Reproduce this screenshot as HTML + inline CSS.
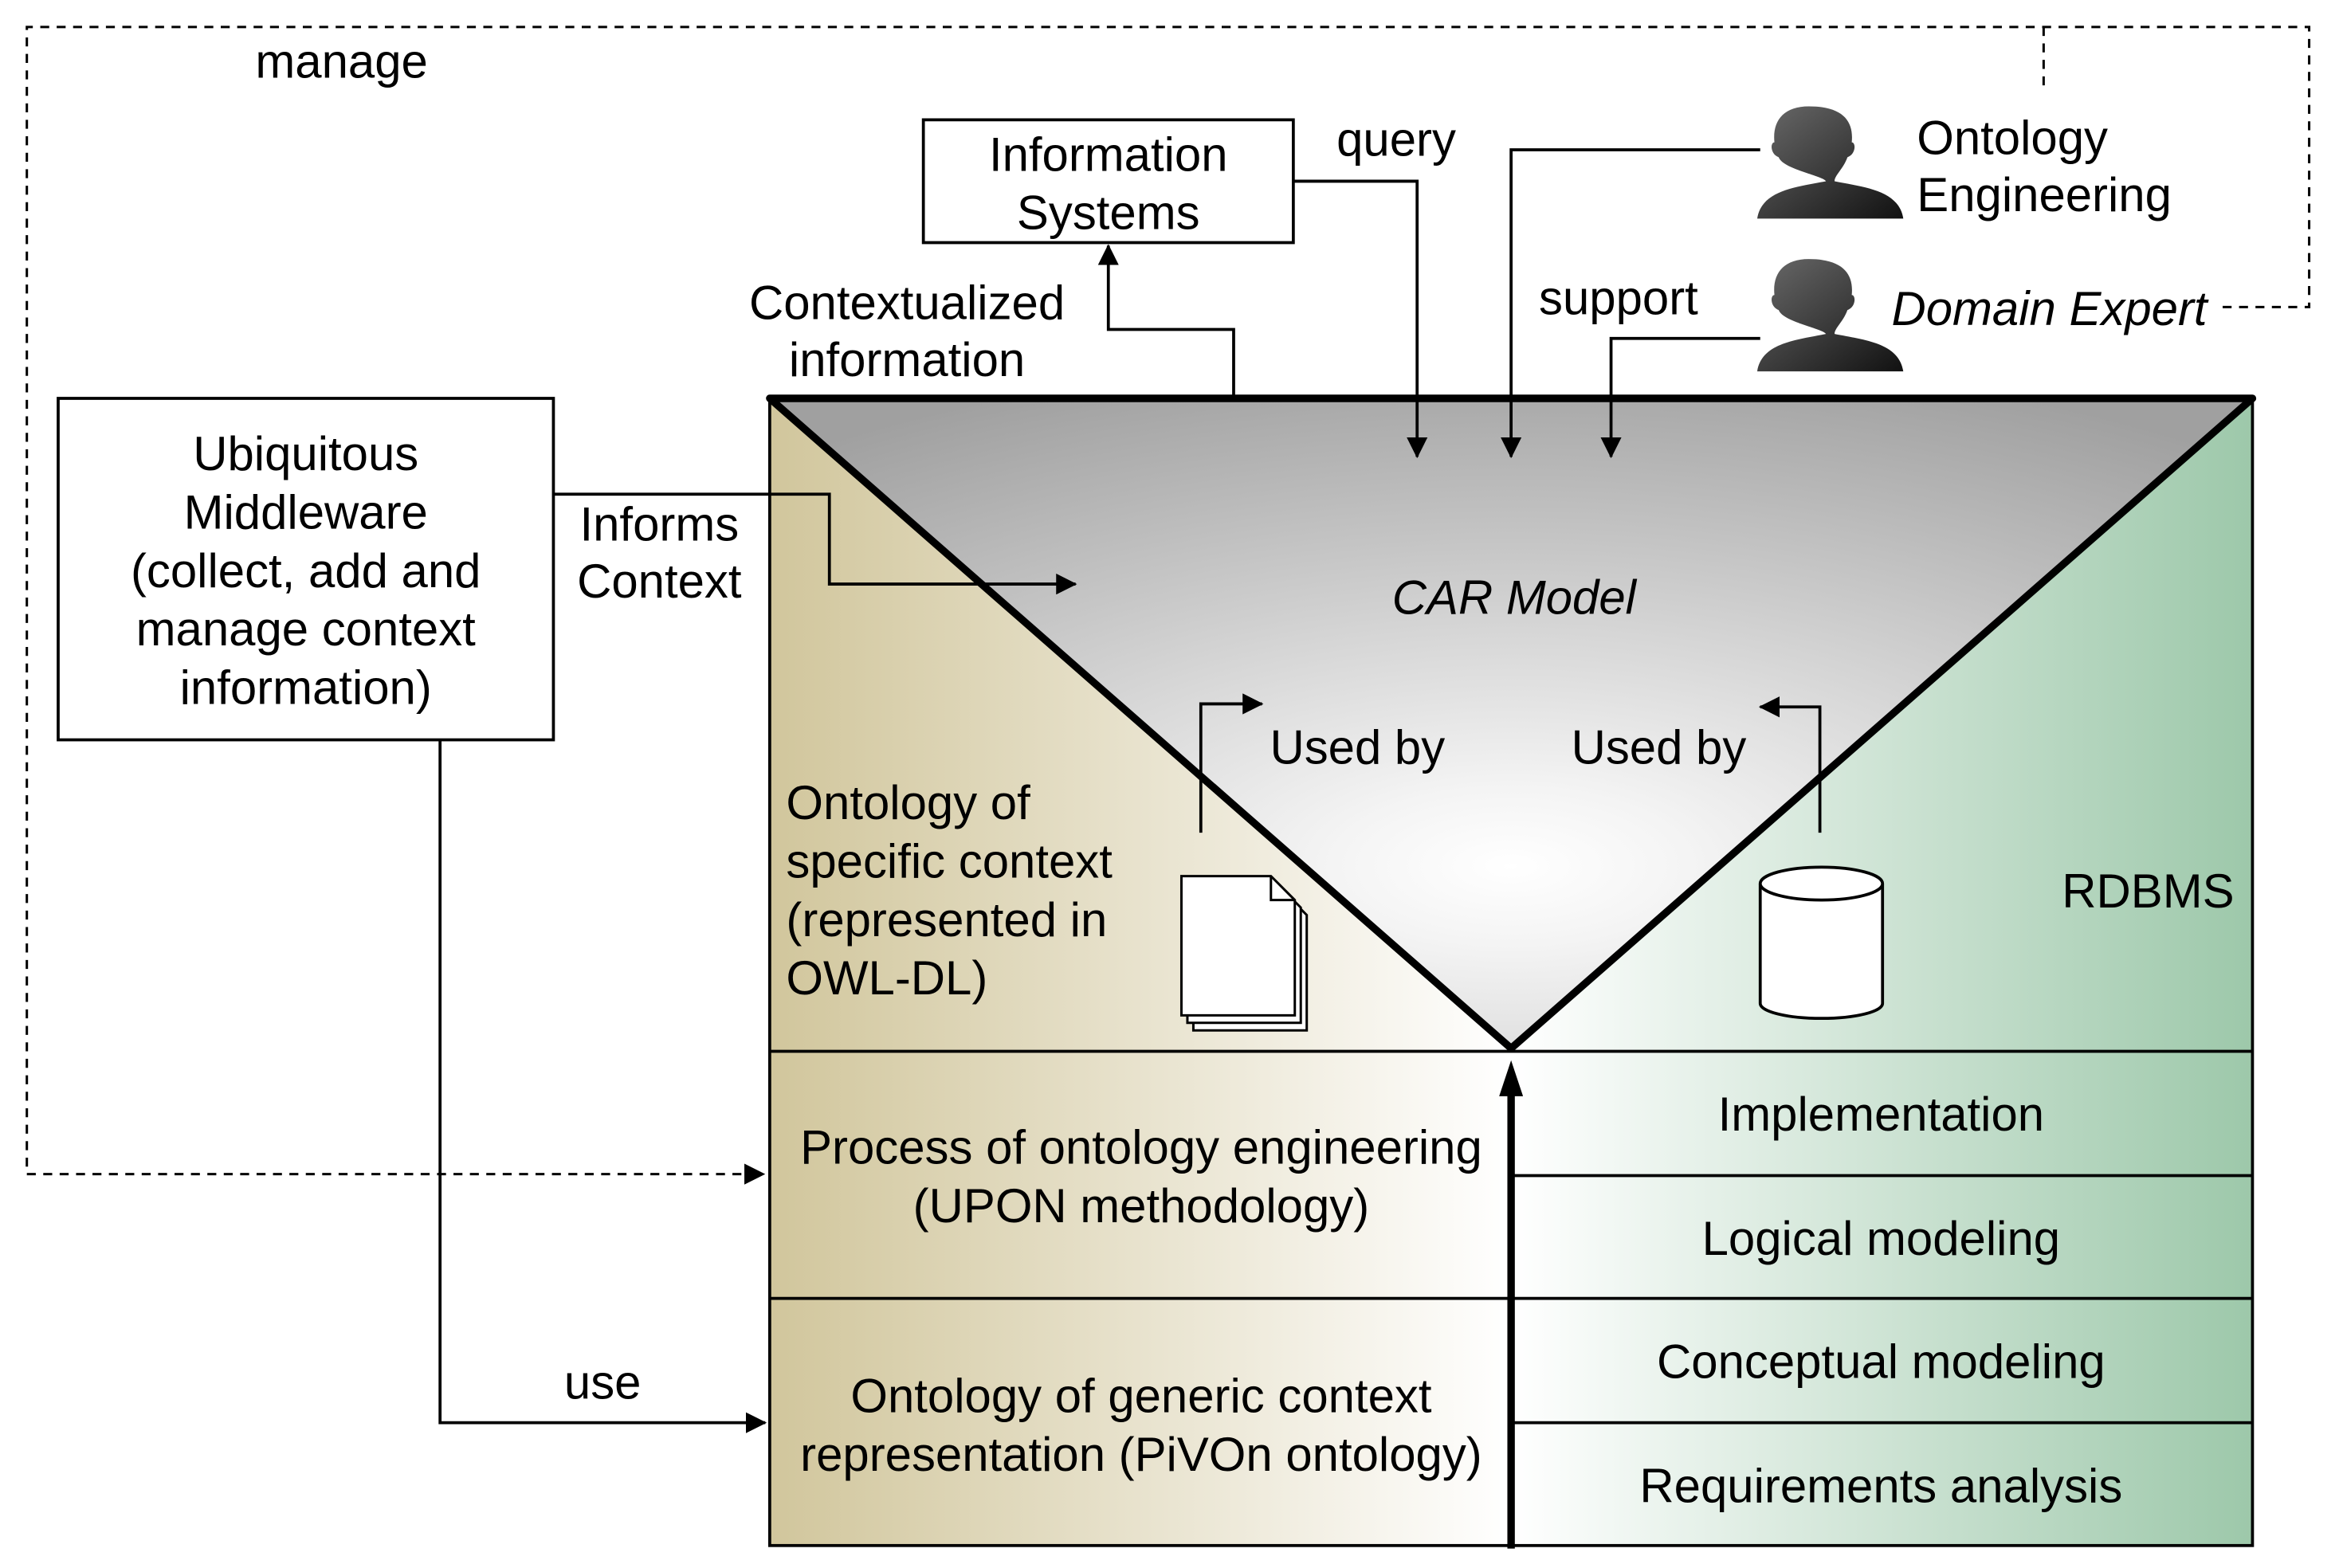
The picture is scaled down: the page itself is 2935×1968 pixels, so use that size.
<!DOCTYPE html>
<html><head><meta charset="utf-8"><style>
html,body{margin:0;padding:0;background:#fff;}
svg{display:block;}
text{font-family:"Liberation Sans",sans-serif;font-size:32px;fill:#000;}
</style></head><body>
<svg width="2935" height="1968" viewBox="0 0 1568 1047" preserveAspectRatio="none" xmlns="http://www.w3.org/2000/svg">
<defs>
<linearGradient id="tan" x1="0" x2="1" y1="0" y2="0"><stop offset="0" stop-color="#d1c69c"/><stop offset="1" stop-color="#ffffff"/></linearGradient>
<linearGradient id="grn" x1="0" x2="1" y1="0" y2="0"><stop offset="0" stop-color="#ffffff"/><stop offset="1" stop-color="#9dc8aa"/></linearGradient>
<radialGradient id="gry" cx="0.5" cy="0.72" r="0.8"><stop offset="0" stop-color="#ffffff"/><stop offset="0.15" stop-color="#f4f4f4"/><stop offset="1" stop-color="#a0a0a0"/></radialGradient>
<linearGradient id="pp" x1="0" x2="1" y1="0" y2="1"><stop offset="0" stop-color="#6a6a6a"/><stop offset="1" stop-color="#111"/></linearGradient>
<marker id="ah" markerWidth="14" markerHeight="14" refX="13" refY="7" orient="auto" markerUnits="userSpaceOnUse"><path d="M0,0 L14,7 L0,14 z" fill="#000"/></marker>
<marker id="ah2" markerWidth="24" markerHeight="16" refX="12" refY="8" orient="auto" markerUnits="userSpaceOnUse"><path d="M0,0 L24,8 L0,16 z" fill="#000"/></marker>
<g id="person"><path d="M24,0 C40,0 45,10 44,24 C46,24 46,32 42,34 C40,42 36,46 36,50 C50,54 66,56 68,75 L0,75 C2,56 18,54 32,50 L32,50 C30,46 12,42 10,34 C6,32 6,24 8,24 C7,10 12,0 24,0 Z" transform="scale(1.44,1)" fill="url(#pp)"/></g>
</defs>

<rect x="516" y="266" width="497" height="766" fill="url(#tan)"/>
<rect x="1013" y="266" width="497" height="766" fill="url(#grn)"/>
<rect x="516" y="266" width="994" height="766" fill="none" stroke="#000" stroke-width="2"/>
<line x1="516" y1="702" x2="1510" y2="702" stroke="#000" stroke-width="2"/>
<line x1="516" y1="867" x2="1510" y2="867" stroke="#000" stroke-width="2"/>
<line x1="1013" y1="785" x2="1510" y2="785" stroke="#000" stroke-width="2"/>
<line x1="1013" y1="950" x2="1510" y2="950" stroke="#000" stroke-width="2"/>
<polygon points="516,266 1510,266 1013,700" fill="url(#gry)" stroke="#000" stroke-width="5" stroke-linejoin="round"/>
<line x1="1013" y1="1034" x2="1013" y2="720" stroke="#000" stroke-width="5" marker-end="url(#ah2)"/>

<polyline points="1490,205 1548,205 1548,18 18,18 18,784 512,784" fill="none" stroke="#000" stroke-width="1.6" stroke-dasharray="6,5" marker-end="url(#ah)"/>
<line x1="1370" y1="18" x2="1370" y2="62" stroke="#000" stroke-width="1.6" stroke-dasharray="6,5"/>
<text x="229" y="52" text-anchor="middle">manage</text>

<rect x="619" y="80" width="248" height="82" fill="#fff" stroke="#000" stroke-width="2"/>
<text x="743" y="114" text-anchor="middle">Information</text>
<text x="743" y="153" text-anchor="middle">Systems</text>
<text x="936" y="104" text-anchor="middle">query</text>
<polyline points="867,121 950,121 950,305" fill="none" stroke="#000" stroke-width="2" marker-end="url(#ah)"/>
<polyline points="827,266 827,220 743,220 743,164" fill="none" stroke="#000" stroke-width="2" marker-end="url(#ah)"/>
<text x="608" y="213" text-anchor="middle">Contextualized</text>
<text x="608" y="251" text-anchor="middle">information</text>

<use href="#person" x="1178" y="71"/>
<use href="#person" x="1178" y="173"/>
<text x="1285" y="103">Ontology</text>
<text x="1285" y="141">Engineering</text>
<text x="1268" y="217" font-style="italic">Domain Expert</text>
<polyline points="1180,100 1013,100 1013,305" fill="none" stroke="#000" stroke-width="2" marker-end="url(#ah)"/>
<text x="1085" y="210" text-anchor="middle">support</text>
<polyline points="1180,226 1080,226 1080,305" fill="none" stroke="#000" stroke-width="2" marker-end="url(#ah)"/>

<rect x="39" y="266" width="332" height="228" fill="#fff" stroke="#000" stroke-width="2"/>
<text x="205" y="314" text-anchor="middle">Ubiquitous</text>
<text x="205" y="353" text-anchor="middle">Middleware</text>
<text x="205" y="392" text-anchor="middle">(collect, add and</text>
<text x="205" y="431" text-anchor="middle">manage context</text>
<text x="205" y="470" text-anchor="middle">information)</text>
<text x="442" y="361" text-anchor="middle">Informs</text>
<text x="442" y="399" text-anchor="middle">Context</text>
<polyline points="371,330 556,330 556,390 721,390" fill="none" stroke="#000" stroke-width="2" marker-end="url(#ah)"/>
<polyline points="295,494 295,950 513,950" fill="none" stroke="#000" stroke-width="2" marker-end="url(#ah)"/>
<text x="404" y="934" text-anchor="middle">use</text>

<text x="1015" y="410" text-anchor="middle" font-style="italic">CAR Model</text>
<text x="910" y="510" text-anchor="middle">Used by</text>
<text x="1112" y="510" text-anchor="middle">Used by</text>
<polyline points="805,556 805,470 846,470" fill="none" stroke="#000" stroke-width="2" marker-end="url(#ah)"/>
<polyline points="1220,556 1220,472 1180,472" fill="none" stroke="#000" stroke-width="2" marker-end="url(#ah)"/>
<text x="527" y="547">Ontology of</text>
<text x="527" y="586">specific context</text>
<text x="527" y="625">(represented in</text>
<text x="527" y="664">OWL-DL)</text>
<text x="1440" y="606" text-anchor="middle">RDBMS</text>
<g fill="#fff" stroke="#000" stroke-width="1.6">
<path d="M800,595 L860,595 L876,611 L876,688 L800,688 Z"/>
<path d="M796,590 L856,590 L872,606 L872,683 L796,683 Z"/>
<path d="M792,585 L852,585 L868,601 L868,678 L792,678 Z"/>
<path d="M852,585 L852,601 L868,601" fill="none"/>
</g>
<path d="M1180,590 L1180,670 A41,10 0 0 0 1262,670 L1262,590" fill="#fff" stroke="#000" stroke-width="2"/>
<ellipse cx="1221" cy="590" rx="41" ry="11" fill="#fff" stroke="#000" stroke-width="2"/>

<text x="765" y="777" text-anchor="middle">Process of ontology engineering</text>
<text x="765" y="816" text-anchor="middle">(UPON methodology)</text>
<text x="765" y="943" text-anchor="middle">Ontology of generic context</text>
<text x="765" y="982" text-anchor="middle">representation (PiVOn ontology)</text>
<text x="1261" y="755" text-anchor="middle">Implementation</text>
<text x="1261" y="838" text-anchor="middle">Logical modeling</text>
<text x="1261" y="920" text-anchor="middle">Conceptual modeling</text>
<text x="1261" y="1003" text-anchor="middle">Requirements analysis</text>
</svg>
</body></html>
